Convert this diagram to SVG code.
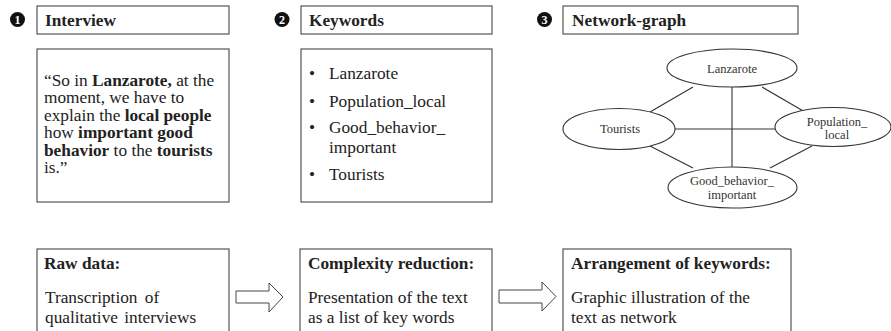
<svg xmlns="http://www.w3.org/2000/svg" width="891" height="331" viewBox="0 0 891 331">
<style>
.box{fill:#fff;stroke:#555;stroke-width:1.2}
.t{font-family:"Liberation Serif","Times New Roman",serif;font-size:17.3px;fill:#222}
.b{font-weight:bold}
.num{font-family:"Liberation Serif",serif;font-size:12px;font-weight:bold;fill:#fff;text-anchor:middle}
.dot{fill:#111}
.el{fill:#fff;stroke:#333;stroke-width:1.1}
.n{font-family:"Liberation Serif","Times New Roman",serif;font-size:12.5px;fill:#333;text-anchor:middle}
.edge{stroke:#333;stroke-width:1.1;fill:none}
.arrow{fill:#fff;stroke:#444;stroke-width:1}
</style>

<g id="step1">
  <circle class="dot" cx="17.5" cy="19.5" r="7.5"/>
  <text class="num" x="17.5" y="24">1</text>
  <rect class="box" x="37" y="6" width="192" height="28"/>
  <text class="t b" x="45" y="26">Interview</text>
  <rect class="box" x="37" y="49" width="192" height="153"/>
  <text class="t" x="44" y="86">“So in <tspan class="b">Lanzarote,</tspan> at the</text>
  <text class="t" x="44" y="103.4">moment, we have to</text>
  <text class="t" x="44" y="120.8">explain the <tspan class="b">local people</tspan></text>
  <text class="t" x="44" y="138.2">how <tspan class="b">important good</tspan></text>
  <text class="t" x="44" y="155.6"><tspan class="b">behavior</tspan> to the <tspan class="b">tourists</tspan></text>
  <text class="t" x="44" y="173">is.”</text>
</g>

<g id="step2">
  <circle class="dot" cx="282" cy="19.5" r="7.5"/>
  <text class="num" x="282" y="24">2</text>
  <rect class="box" x="301" y="6" width="191" height="28"/>
  <text class="t b" x="309" y="26">Keywords</text>
  <rect class="box" x="301" y="49" width="191" height="153"/>
  <text class="t" x="309" y="79">•</text><text class="t" x="329" y="79">Lanzarote</text>
  <text class="t" x="309" y="107">•</text><text class="t" x="329" y="107">Population_local</text>
  <text class="t" x="309" y="133">•</text><text class="t" x="329" y="133">Good_behavior_</text>
  <text class="t" x="329" y="153">important</text>
  <text class="t" x="309" y="180">•</text><text class="t" x="329" y="180">Tourists</text>
</g>

<g id="step3">
  <circle class="dot" cx="544.5" cy="19.5" r="7.5"/>
  <text class="num" x="544.5" y="24">3</text>
  <rect class="box" x="563" y="6" width="235" height="28"/>
  <text class="t b" x="572" y="26">Network-graph</text>
</g>

<g id="connectors">
  <line class="edge" x1="693" y1="87" x2="650" y2="112"/>
  <line class="edge" x1="762" y1="87" x2="805" y2="112"/>
  <line class="edge" x1="732" y1="87" x2="732" y2="167"/>
  <line class="edge" x1="675" y1="129" x2="776" y2="129"/>
  <line class="edge" x1="650" y1="146" x2="693" y2="168"/>
  <line class="edge" x1="812" y1="146" x2="770" y2="168"/>
</g>

<g id="node-lanzarote">
  <ellipse class="el" cx="732" cy="68" rx="65" ry="19"/>
  <text class="n" x="732" y="73">Lanzarote</text>
</g>
<g id="node-tourists">
  <ellipse class="el" cx="619" cy="129" rx="56" ry="20.5"/>
  <text class="n" x="620" y="133">Tourists</text>
</g>
<g id="node-population">
  <ellipse class="el" cx="833" cy="127" rx="58" ry="19.5"/>
  <text class="n" x="837" y="125.5">Population_</text>
  <text class="n" x="837" y="139">local</text>
</g>
<g id="node-goodbehavior">
  <ellipse class="el" cx="732.5" cy="187.5" rx="64.5" ry="20.5"/>
  <text class="n" x="732" y="185">Good_behavior_</text>
  <text class="n" x="732" y="198.5">important</text>
</g>

<g id="raw-data">
  <rect class="box" x="37" y="249" width="192" height="100"/>
  <text class="t b" x="44" y="269">Raw data:</text>
  <text class="t" x="45" y="303" word-spacing="3">Transcription of</text>
  <text class="t" x="45" y="323" word-spacing="2">qualitative interviews</text>
</g>

<g id="complexity">
  <rect class="box" x="300" y="249" width="192" height="100"/>
  <text class="t b" x="308" y="269">Complexity reduction:</text>
  <text class="t" x="308" y="303">Presentation of the text</text>
  <text class="t" x="308" y="323">as a list of key words</text>
</g>

<g id="arrangement">
  <rect class="box" x="563" y="249" width="228" height="100"/>
  <text class="t b" x="571" y="269">Arrangement of keywords:</text>
  <text class="t" x="571" y="303">Graphic illustration of the</text>
  <text class="t" x="571" y="323">text as network</text>
</g>

<g id="arrows">
  <polygon class="arrow" points="236,291 269,291 269,283 283,297 269,312 269,303 236,303"/>
  <polygon class="arrow" points="499,290 542,290 542,282 556,296.5 542,311 542,303 499,303"/>
</g>
</svg>
